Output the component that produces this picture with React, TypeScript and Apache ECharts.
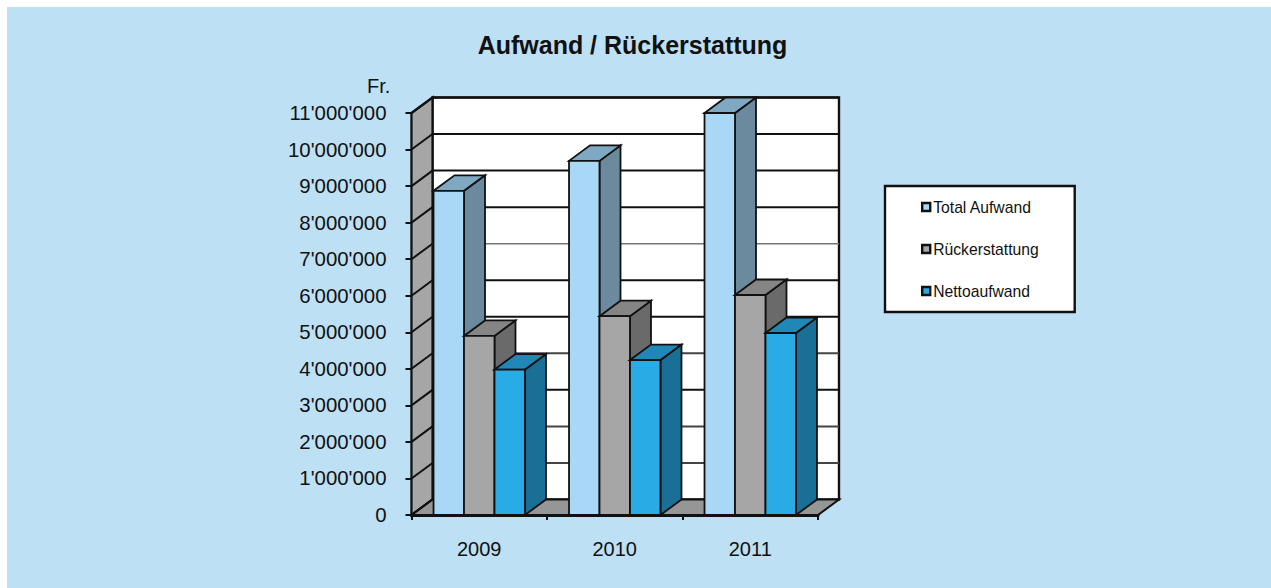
import React, { useEffect, useRef } from "react";
import * as echarts from "echarts";

const categories = ["2009", "2010", "2011"];
const seriesNames = ["Total Aufwand", "Rückerstattung", "Nettoaufwand"];
const totalAufwand = [8870000, 9690000, 11000000];
const rueckerstattung = [4900000, 5440000, 6020000];
const nettoaufwand = [3980000, 4240000, 4980000];
const yTicks = [0, 1000000, 2000000, 3000000, 4000000, 5000000, 6000000, 7000000, 8000000, 9000000, 10000000, 11000000];
const softTicks = [1000000, 2000000, 4000000, 7000000];

const DX = 21;
const DY = -15.5;
const FONT = "Liberation Sans, Arial, sans-serif";
const INK = "#111111";

const palette = [
  { front: "#a8d8f5", top: "#7fa9c2", side: "#6b8a9e" },
  { front: "#a6a6a6", top: "#858585", side: "#6a6a6a" },
  { front: "#29abe6", top: "#2088b8", side: "#1a6f96" },
];

function barSeries(name: string, values: number[], idx: number) {
  const c = palette[idx];
  return {
    type: "custom",
    name,
    z: 3 + idx,
    itemStyle: { color: c.front },
    encode: { x: 0, y: 1 },
    data: categories.map((cat, i) => [cat, values[i]]),
    renderItem: (_p: any, api: any) => {
      const band = api.size([1, 0])[0];
      const w = (band * 0.675) / 3;
      const [cx, yt] = api.coord([api.value(0), api.value(1)]);
      const [, yb] = api.coord([api.value(0), 0]);
      const x0 = cx - 1.5 * w + idx * w;
      const x1 = x0 + w;
      const stroke = { stroke: INK, lineWidth: 1.8 };
      return {
        type: "group",
        children: [
          { type: "polygon", shape: { points: [[x1, yt], [x1 + DX, yt + DY], [x1 + DX, yb + DY], [x1, yb]] }, style: { fill: c.side, ...stroke } },
          { type: "polygon", shape: { points: [[x0, yt], [x0 + DX, yt + DY], [x1 + DX, yt + DY], [x1, yt]] }, style: { fill: c.top, ...stroke } },
          { type: "rect", shape: { x: x0, y: yt, width: w, height: yb - yt }, style: { fill: c.front, ...stroke } },
        ],
      };
    },
  };
}

const wallSeries = {
  type: "custom",
  name: "wall",
  z: 1,
  silent: true,
  encode: { y: 0 },
  data: yTicks.map((v) => [v]),
  renderItem: (params: any, api: any) => {
    const v = api.value(0);
    const cs = params.coordSys;
    const left = cs.x;
    const right = cs.x + cs.width;
    const y = api.coord([0, v])[1];
    const top = cs.y;
    const bottom = cs.y + cs.height;
    const children: any[] = [];
    if (params.dataIndex === 0) {
      children.push(
        { type: "rect", shape: { x: left + DX, y: top + DY, width: cs.width, height: cs.height }, style: { fill: "#ffffff", stroke: INK, lineWidth: 2.4 } },
        { type: "polygon", shape: { points: [[left, top], [left + DX, top + DY], [left + DX, bottom + DY], [left, bottom]] }, style: { fill: "#a6a6a6", stroke: INK, lineWidth: 2.2 } },
        { type: "polygon", shape: { points: [[left, bottom], [left + DX, bottom + DY], [right + DX, bottom + DY], [right, bottom]] }, style: { fill: "#969696", stroke: INK, lineWidth: 2 } },
      );
    }
    if (params.dataIndex > 0) {
      const soft = softTicks.includes(v);
      children.push({ type: "line", shape: { x1: left + DX, y1: y + DY, x2: right + DX, y2: y + DY }, style: { stroke: v === 7000000 ? "#777777" : soft ? "#444444" : INK, lineWidth: v === 7000000 ? 1.4 : 2 } });
    }
    children.push({ type: "line", shape: { x1: left, y1: y, x2: left + DX, y2: y + DY }, style: { stroke: INK, lineWidth: 2 } });
    return { type: "group", children };
  },
};

export default function App() {
  const ref = useRef<HTMLDivElement>(null);
  useEffect(() => {
    document.body.style.margin = "0";
    const chart = echarts.init(ref.current!, undefined, { renderer: "svg" });
    chart.setOption({
      animation: false,
      backgroundColor: "transparent",
      graphic: [
        { type: "rect", z: -10, shape: { x: 7, y: 7, width: 1264, height: 581 }, style: { fill: "#bde0f5" } },
        { type: "text", left: 367, top: 76, style: { text: "Fr.", font: `20px ${FONT}`, fill: INK } },
      ],
      title: {
        text: "Aufwand / Rückerstattung",
        left: 627.5,
        top: 27,
        textAlign: "center",
        textStyle: { fontFamily: FONT, fontSize: 25, fontWeight: "bold", color: INK },
      },
      legend: {
        data: seriesNames,
        orient: "vertical",
        left: 885,
        top: 186,
        padding: [13, 36, 13, 36],
        itemWidth: 8,
        itemHeight: 8,
        itemGap: 26,
        icon: "rect",
        backgroundColor: "#ffffff",
        borderColor: INK,
        borderWidth: 2.4,
        selectedMode: false,
        itemStyle: { borderColor: "#111111", borderWidth: 2.4 },
        textStyle: { fontFamily: FONT, fontSize: 15.7, color: INK, padding: [0, 0, 0, -2] },
      },
      grid: { left: 411.5, top: 113, width: 406.5, height: 402, containLabel: false },
      xAxis: {
        type: "category",
        data: categories,
        axisLine: { show: true, lineStyle: { color: INK, width: 3 } },
        axisTick: { show: true, alignWithLabel: false, length: 5, lineStyle: { color: INK, width: 2 } },
        axisLabel: { fontFamily: FONT, fontSize: 20, color: INK, margin: 24 },
      },
      yAxis: {
        type: "value",
        min: 0,
        max: 11000000,
        interval: 1000000,
        splitLine: { show: false },
        axisLine: { show: true, lineStyle: { color: INK, width: 2.4 } },
        axisTick: { show: true, length: 6, lineStyle: { color: INK, width: 2 } },
        axisLabel: {
          fontFamily: FONT,
          fontSize: 20.4,
          color: INK,
          margin: 25,
          formatter: (v: number) => String(v).replace(/\B(?=(\d{3})+(?!\d))/g, "'"),
        },
      },
      series: [
        wallSeries,
        barSeries(seriesNames[0], totalAufwand, 0),
        barSeries(seriesNames[1], rueckerstattung, 1),
        barSeries(seriesNames[2], nettoaufwand, 2),
      ],
    });
    return () => chart.dispose();
  }, []);
  return <div ref={ref} style={{ width: 1271, height: 588 }} />;
}
